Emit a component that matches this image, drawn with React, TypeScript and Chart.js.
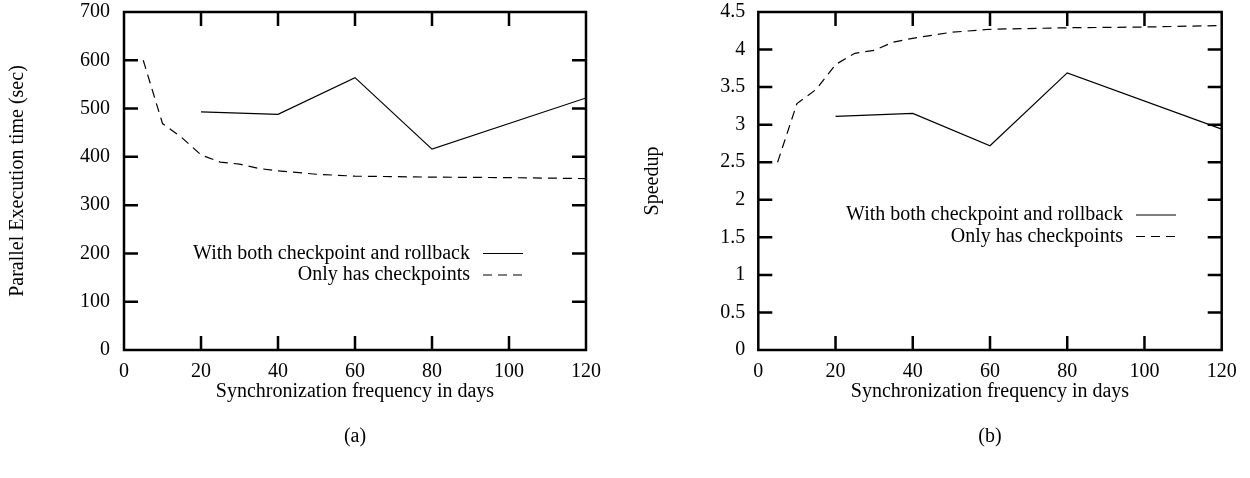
import React, { useEffect, useRef } from "react";
import { Chart, registerables } from "chart.js";

Chart.register(...registerables);

// ---------- data ----------
const SERIES_LABELS = ["With both checkpoint and rollback", "Only has checkpoints"];

const ROLLBACK_DAYS = [20, 40, 60, 80, 120];
const ROLLBACK_TIME = [493, 488, 564, 416, 522];
const ROLLBACK_SPEEDUP = [3.11, 3.15, 2.72, 3.69, 2.94];

const CKPT_DAYS = [5, 10, 15, 20, 25, 30, 35, 40, 50, 60, 80, 100, 120];
const CKPT_TIME = [600, 469, 440, 404, 389, 385, 376, 371, 364, 360, 358, 357, 355];
const CKPT_SPEEDUP = [2.5, 3.28, 3.47, 3.8, 3.95, 3.99, 4.1, 4.15, 4.23, 4.27, 4.29, 4.3, 4.32];

const X_TICKS = [0, 20, 40, 60, 80, 100, 120];
const TIME_TICKS = [0, 100, 200, 300, 400, 500, 600, 700];
const SPEEDUP_TICKS = [0, 0.5, 1, 1.5, 2, 2.5, 3, 3.5, 4, 4.5];

const X_TITLE = "Synchronization frequency in days";
const TIME_TITLE = "Parallel Execution time (sec)";
const SPEEDUP_TITLE = "Speedup";

// ---------- styling ----------
const FONT_FAMILY = "'Liberation Serif', 'Times New Roman', serif";
const FONT = { family: FONT_FAMILY, size: 20, weight: "normal" as const, lineHeight: 1.2 };

const framePlugin = {
  id: "frame",
  afterDatasetsDraw(chart: any) {
    const { ctx, chartArea: a, scales } = chart;
    const TL = 14;
    ctx.save();
    ctx.strokeStyle = "#000";
    ctx.lineWidth = 2.5;
    ctx.beginPath();
    scales.x.ticks.forEach((t: any) => {
      const px = scales.x.getPixelForValue(t.value);
      if (px <= a.left + 1 || px >= a.right - 1) return;
      ctx.moveTo(px, a.bottom);
      ctx.lineTo(px, a.bottom - TL);
      ctx.moveTo(px, a.top);
      ctx.lineTo(px, a.top + TL);
    });
    scales.y.ticks.forEach((t: any) => {
      const py = scales.y.getPixelForValue(t.value);
      if (py <= a.top + 1 || py >= a.bottom - 1) return;
      ctx.moveTo(a.left, py);
      ctx.lineTo(a.left + TL, py);
      ctx.moveTo(a.right, py);
      ctx.lineTo(a.right - TL, py);
    });
    ctx.stroke();
    ctx.lineJoin = "miter";
    ctx.strokeRect(a.left, a.top, a.right - a.left, a.bottom - a.top);
    ctx.restore();
  },
};

const innerLegendPlugin = {
  id: "innerLegend",
  afterDraw(chart: any, _args: any, opts: any) {
    const { ctx, chartArea: a } = chart;
    const sampleEnd = a.right - opts.fromRight;
    const sampleStart = sampleEnd - opts.sampleLen;
    const textRight = sampleStart - opts.gap;
    ctx.save();
    ctx.font = `${FONT.size}px ${FONT_FAMILY}`;
    ctx.fillStyle = "#000";
    ctx.textAlign = "right";
    ctx.textBaseline = "middle";
    chart.data.datasets.forEach((ds: any, i: number) => {
      const y = opts.top + i * opts.rowHeight;
      ctx.fillText(ds.label, textRight, y);
      ctx.beginPath();
      ctx.strokeStyle = "#000";
      ctx.lineWidth = ds.borderWidth;
      ctx.setLineDash(ds.borderDash || []);
      ctx.moveTo(sampleStart, y);
      ctx.lineTo(sampleEnd, y);
      ctx.stroke();
    });
    ctx.restore();
  },
};

function toPoints(xs: number[], ys: number[]) {
  return xs.map((x, i) => ({ x, y: ys[i] }));
}

function makeConfig(opts: {
  solid: number[];
  dashed: number[];
  yTicks: number[];
  yTitle: string;
  caption: string;
  yWidth: number;
  padRight: number;
  yTitlePad: number;
  yTickPad: number;
  legend: { fromRight: number; top: number };
}): any {
  return {
    type: "line",
    data: {
      datasets: [
        {
          label: SERIES_LABELS[0],
          data: toPoints(ROLLBACK_DAYS, opts.solid),
          borderColor: "#000",
          borderWidth: 1.2,
          pointRadius: 0,
          fill: false,
          tension: 0,
        },
        {
          label: SERIES_LABELS[1],
          data: toPoints(CKPT_DAYS, opts.dashed),
          borderColor: "#000",
          borderWidth: 1.2,
          borderDash: [9, 6],
          pointRadius: 0,
          fill: false,
          tension: 0,
        },
      ],
    },
    options: {
      animation: false,
      responsive: false,
      maintainAspectRatio: false,
      devicePixelRatio: 1,
      events: [],
      layout: { padding: { left: 0, top: 12, right: opts.padRight, bottom: 0 } },
      scales: {
        x: {
          type: "linear",
          min: X_TICKS[0],
          max: X_TICKS[X_TICKS.length - 1],
          afterBuildTicks: (s: any) => {
            s.ticks = X_TICKS.map((v) => ({ value: v }));
          },
          afterFit: (s: any) => {
            s.height = 65;
            s.paddingLeft = 0;
            s.paddingRight = 0;
          },
          grid: { display: false, drawTicks: false },
          border: { display: false },
          ticks: {
            padding: 10,
            font: FONT,
            color: "#000",
            autoSkip: false,
            maxRotation: 0,
            callback: (v: any) => String(v),
          },
          title: {
            display: true,
            text: X_TITLE,
            font: FONT,
            color: "#000",
            padding: { top: 0, bottom: 11 },
          },
        },
        y: {
          type: "linear",
          min: opts.yTicks[0],
          max: opts.yTicks[opts.yTicks.length - 1],
          afterBuildTicks: (s: any) => {
            s.ticks = opts.yTicks.map((v) => ({ value: v }));
          },
          afterFit: (s: any) => {
            s.width = opts.yWidth;
            s.paddingTop = 0;
            s.paddingBottom = 0;
          },
          grid: { display: false, drawTicks: false },
          border: { display: false },
          ticks: {
            padding: opts.yTickPad,
            font: FONT,
            color: "#000",
            autoSkip: false,
            callback: (v: any) => String(v),
          },
          title: {
            display: true,
            text: opts.yTitle,
            font: FONT,
            color: "#000",
            padding: { top: opts.yTitlePad, bottom: 0 },
          },
        },
      },
      plugins: {
        legend: { display: false },
        tooltip: { enabled: false },
        title: {
          display: true,
          fullSize: false,
          text: opts.caption,
          position: "bottom",
          font: FONT,
          color: "#000",
          padding: { top: 10, bottom: 29 },
        },
        innerLegend: {
          fromRight: opts.legend.fromRight,
          top: opts.legend.top,
          rowHeight: 21.5,
          sampleLen: 40,
          gap: 13,
        },
      },
    },
    plugins: [framePlugin, innerLegendPlugin],
  };
}

function Panel({ config, left }: { config: any; left: number }) {
  const ref = useRef<HTMLCanvasElement | null>(null);
  useEffect(() => {
    if (!ref.current) return;
    const chart = new Chart(ref.current, config);
    return () => chart.destroy();
  }, [config]);
  return (
    <canvas
      ref={ref}
      width={625}
      height={478}
      style={{ position: "absolute", left, top: 0, width: 625, height: 478 }}
    />
  );
}

const configA = makeConfig({
  solid: ROLLBACK_TIME,
  dashed: CKPT_TIME,
  yTicks: TIME_TICKS,
  yTitle: TIME_TITLE,
  caption: "(a)",
  yWidth: 124,
  padRight: 39,
  yTitlePad: 6,
  yTickPad: 14,
  legend: { fromRight: 63, top: 253.5 },
});

const configB = makeConfig({
  solid: ROLLBACK_SPEEDUP,
  dashed: CKPT_SPEEDUP,
  yTicks: SPEEDUP_TICKS,
  yTitle: SPEEDUP_TITLE,
  caption: "(b)",
  yWidth: 133.3,
  padRight: 28.3,
  yTitlePad: 16,
  yTickPad: 13,
  legend: { fromRight: 45.7, top: 215 },
});

export default function App() {
  return (
    <div
      style={{
        position: "absolute",
        left: 0,
        top: 0,
        width: 1250,
        height: 478,
        background: "#fff",
        overflow: "hidden",
      }}
    >
      <Panel config={configA} left={0} />
      <Panel config={configB} left={625} />
    </div>
  );
}
